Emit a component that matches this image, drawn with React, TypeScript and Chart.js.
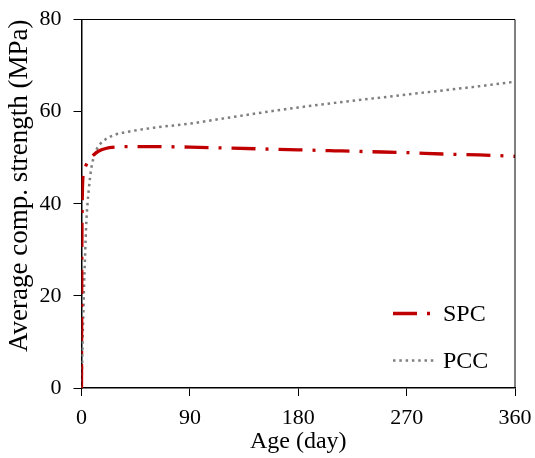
import React, { useEffect, useRef } from "react";
import { Chart, registerables } from "chart.js";

Chart.register(...registerables);

const spcDays = [0, 0.3, 0.7, 1, 2, 4, 7, 10, 14, 20, 28, 40, 60, 90, 120, 150, 180, 210, 240, 270, 300, 330, 360];
const spcStrength = [0, 30, 42, 45, 47, 48.5, 49.8, 50.6, 51.4, 52, 52.3, 52.4, 52.4, 52.3, 52.1, 51.9, 51.7, 51.5, 51.3, 51.1, 50.8, 50.6, 50.3];

const pccDays = [0, 0.5, 1, 1.5, 2, 3, 4, 5, 6, 7, 8, 10, 12, 15, 20, 28, 40, 60, 90, 120, 150, 180, 210, 240, 270, 300, 330, 360];
const pccStrength = [0, 5, 11, 16, 21, 29, 36, 40, 43, 45.5, 47.5, 50, 51.5, 52.8, 54, 55, 55.7, 56.5, 57.4, 58.6, 59.8, 60.9, 61.9, 62.8, 63.7, 64.6, 65.5, 66.5];

const seriesLabels = ["SPC", "PCC"];
const xTitle = "Age (day)";
const yTitle = "Average comp. strength (MPa)";

const FONT = "'Liberation Serif', 'Times New Roman', serif";
const SPC_COLOR = "#c00000";
const PCC_COLOR = "#7f7f7f";
const SPC_DASH = [24, 10, 3, 10];
const PCC_DASH = [2.5, 3.8];

const toPoints = (xs: number[], ys: number[]) => xs.map((x, i) => ({ x, y: ys[i] }));

const frameAndLegend = {
  id: "frameAndLegend",
  afterDraw(chart: any) {
    const { ctx, chartArea } = chart;
    ctx.save();
    ctx.strokeStyle = "#000";
    ctx.lineWidth = 1;
    ctx.beginPath();
    ctx.moveTo(chartArea.left, chartArea.top);
    ctx.lineTo(chartArea.right, chartArea.top);
    ctx.lineTo(chartArea.right, chartArea.bottom);
    ctx.stroke();

    const items = [
      { label: chart.data.datasets[0].label, color: SPC_COLOR, dash: SPC_DASH, width: 3.3, y: 313.5, x0: 393, x1: 431 },
      { label: chart.data.datasets[1].label, color: PCC_COLOR, dash: PCC_DASH, width: 2.5, y: 360.5, x0: 393, x1: 434 },
    ];
    items.forEach((it) => {
      ctx.beginPath();
      ctx.setLineDash(it.dash);
      ctx.strokeStyle = it.color;
      ctx.lineWidth = it.width;
      ctx.moveTo(it.x0, it.y);
      ctx.lineTo(it.x1, it.y);
      ctx.stroke();
      ctx.setLineDash([]);
      ctx.fillStyle = "#000";
      ctx.font = `24px ${FONT}`;
      ctx.textBaseline = "middle";
      ctx.textAlign = "left";
      ctx.fillText(it.label, 443, it.y + 1);
    });
    ctx.restore();
  },
};

export default function App() {
  const canvasRef = useRef<HTMLCanvasElement | null>(null);

  useEffect(() => {
    if (!canvasRef.current) return;
    const chart = new Chart(canvasRef.current, {
      type: "scatter",
      data: {
        datasets: [
          {
            label: seriesLabels[0],
            data: toPoints(spcDays, spcStrength),
            showLine: true,
            borderColor: SPC_COLOR,
            backgroundColor: SPC_COLOR,
            borderWidth: 3.3,
            borderDash: SPC_DASH,
            pointRadius: 0,
            cubicInterpolationMode: "monotone",
          },
          {
            label: seriesLabels[1],
            data: toPoints(pccDays, pccStrength),
            showLine: true,
            borderColor: PCC_COLOR,
            backgroundColor: PCC_COLOR,
            borderWidth: 2.5,
            borderDash: PCC_DASH,
            pointRadius: 0,
            cubicInterpolationMode: "monotone",
          },
        ],
      },
      options: {
        animation: false,
        responsive: false,
        devicePixelRatio: 1,
        layout: { padding: { top: 19.5, right: 20, bottom: 0, left: 0 } },
        plugins: {
          legend: { display: false },
          tooltip: { enabled: false },
        },
        scales: {
          x: {
            type: "linear",
            min: 0,
            max: 360,
            afterFit: (s: any) => {
              s.height = 70;
              s.paddingLeft = 0;
              s.paddingRight = 0;
            },
            ticks: {
              stepSize: 90,
              color: "#000",
              padding: 9,
              font: { family: FONT, size: 22 },
              maxRotation: 0,
            },
            grid: {
              drawOnChartArea: false,
              drawTicks: true,
              tickLength: 8,
              color: "#000",
              lineWidth: 1,
            },
            border: { display: true, color: "#000", width: 1.5 },
            title: {
              display: true,
              text: xTitle,
              color: "#000",
              font: { family: FONT, size: 24 },
              padding: { top: 0, bottom: 2 },
            },
          },
          y: {
            type: "linear",
            min: 0,
            max: 80,
            afterFit: (s: any) => {
              s.width = 81.5;
              s.paddingTop = 0;
              s.paddingBottom = 0;
            },
            ticks: {
              stepSize: 20,
              color: "#000",
              padding: 12,
              font: { family: FONT, size: 22 },
            },
            grid: {
              drawOnChartArea: false,
              drawTicks: true,
              tickLength: 8,
              color: "#000",
              lineWidth: 1,
            },
            border: { display: true, color: "#000", width: 1.5 },
            title: {
              display: true,
              text: yTitle,
              color: "#000",
              align: "end",
              font: { family: FONT, size: 27 },
              padding: { top: 4, bottom: 0 },
            },
          },
        },
      },
      plugins: [frameAndLegend],
    });
    return () => chart.destroy();
  }, []);

  return (
    <div style={{ position: "absolute", left: 0, top: 0, width: 535, height: 458, background: "#fff" }}>
      <canvas ref={canvasRef} width={535} height={458} style={{ width: 535, height: 458 }} />
    </div>
  );
}
